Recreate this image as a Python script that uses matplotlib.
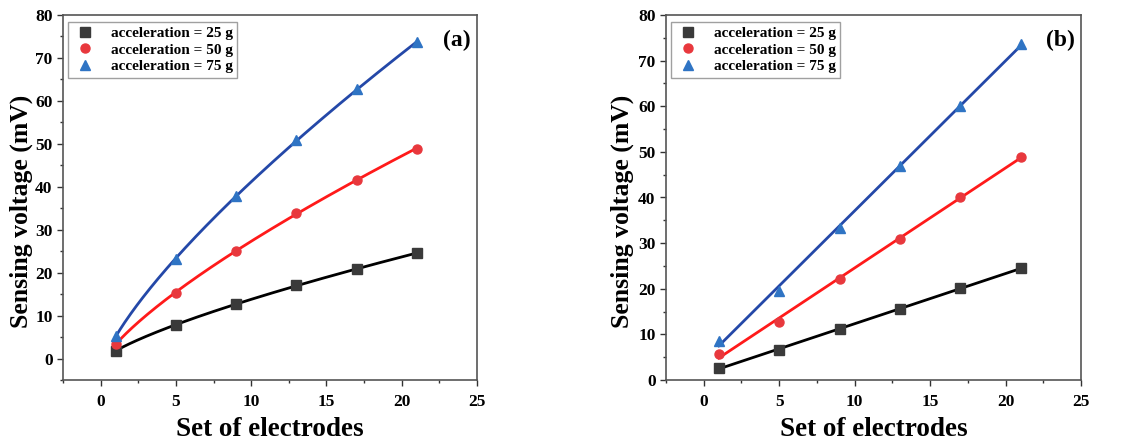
import numpy as np
import matplotlib
matplotlib.use("Agg")
import matplotlib.pyplot as plt
from matplotlib.ticker import MultipleLocator

electrodes = [1, 5, 9, 13, 17, 21]
labels = ["acceleration = 25 g", "acceleration = 50 g", "acceleration = 75 g"]

# panel (a) - power-law-like response
a_25g = [1.85, 7.75, 12.7, 17.05, 20.9, 24.5]
a_50g = [3.4, 15.3, 25.1, 33.8, 41.6, 48.9]
a_75g = [5.2, 23.2, 37.75, 50.9, 62.7, 73.6]

# panel (b) - linear response
b_25g = [2.7, 6.6, 11.1, 15.6, 20.1, 24.5]
b_50g = [5.6, 12.8, 22.2, 31.0, 40.0, 48.9]
b_75g = [8.6, 19.5, 33.4, 47.0, 60.1, 73.6]

marker_colors = ["#3a3a3a", "#e8383d", "#2f74c4"]
line_colors = ["#000000", "#ff1a1a", "#2448a8"]
markers = ["s", "o", "^"]

plt.rcParams['font.family'] = ['Liberation Serif', 'DejaVu Serif']
plt.rcParams['font.weight'] = 'bold'

fig = plt.figure(figsize=(11.42, 4.44), dpi=100)
W, H = 1142, 444
ax1 = fig.add_axes([63 / W, 1 - 380 / H, (477 - 63) / W, (380 - 15) / H])
ax2 = fig.add_axes([666 / W, 1 - 380 / H, (1081 - 666) / W, (380 - 15) / H])

x = np.array(electrodes, dtype=float)
xs = np.linspace(1, 21, 200)


def allometric_fit(xv, yv):
    """Least-squares fit of y = a*x^b + c (grid over b, linear LS for a, c)."""
    best = None
    for b in np.linspace(0.2, 1.5, 1301):
        A = np.column_stack([xv ** b, np.ones_like(xv)])
        coef, *_ = np.linalg.lstsq(A, yv, rcond=None)
        r = np.sum((A @ coef - yv) ** 2)
        if best is None or r < best[0]:
            best = (r, coef[0], b, coef[1])
    _, a, b, c = best
    return lambda t: a * t ** b + c


def style(ax, ylim, tag, ylab_x):
    ax.set_xlim(-2.5, 25)
    ax.set_ylim(*ylim)
    ax.xaxis.set_major_locator(MultipleLocator(5))
    ax.xaxis.set_minor_locator(MultipleLocator(2.5))
    ax.yaxis.set_major_locator(MultipleLocator(10))
    ax.yaxis.set_minor_locator(MultipleLocator(5))
    ax.tick_params(which='both', direction='out', top=False, right=False,
                   color='#333333', width=1.0)
    ax.tick_params(which='major', length=4, labelsize=12.5)
    ax.tick_params(axis='x', which='major', pad=6)
    ax.tick_params(which='minor', length=2.5)
    for lab in ax.get_xticklabels() + ax.get_yticklabels():
        lab.set_fontweight('bold')
    for sp in ax.spines.values():
        sp.set_color('#555555')
        sp.set_linewidth(1.2)
    ax.set_xlabel("Set of electrodes", fontsize=19.5, fontweight='bold', labelpad=5)
    ax.set_ylabel("Sensing voltage (mV)", fontsize=18.5, fontweight='bold')
    ax.yaxis.set_label_coords(ylab_x, 0.463)
    ax.text(0.985, 0.93, tag, transform=ax.transAxes, ha='right', va='center',
            fontsize=17, fontweight='bold')
    leg = ax.legend(loc='upper left', bbox_to_anchor=(0.005, 0.99), fontsize=11,
                    frameon=True, fancybox=False, edgecolor='#888888',
                    borderpad=0.3, labelspacing=0.2, handletextpad=0.9,
                    handlelength=1.6, borderaxespad=0.2)
    for t in leg.get_texts():
        t.set_fontweight('bold')
    leg.get_frame().set_linewidth(1.0)


# panel (a): allometric (power-law) fits
for ys, mc, lc, m, lab in zip([a_25g, a_50g, a_75g], marker_colors, line_colors, markers, labels):
    y = np.array(ys)
    f = allometric_fit(x, y)
    ax1.plot(xs, f(xs), color=lc, lw=2, zorder=2)
    ax1.plot(x, y, linestyle='none', marker=m, ms=6.5, color=mc, label=lab, zorder=3)
style(ax1, (-5, 80), "(a)", (33 - 63) / (477 - 63))

# panel (b): linear fits
for ys, mc, lc, m, lab in zip([b_25g, b_50g, b_75g], marker_colors, line_colors, markers, labels):
    y = np.array(ys)
    k, c = np.polyfit(x, y, 1)
    ax2.plot(xs, k * xs + c, color=lc, lw=2, zorder=2)
    ax2.plot(x, y, linestyle='none', marker=m, ms=6.5, color=mc, label=lab, zorder=3)
style(ax2, (0, 80), "(b)", (634 - 666) / (1081 - 666))

fig.savefig("out.png", dpi=100)
